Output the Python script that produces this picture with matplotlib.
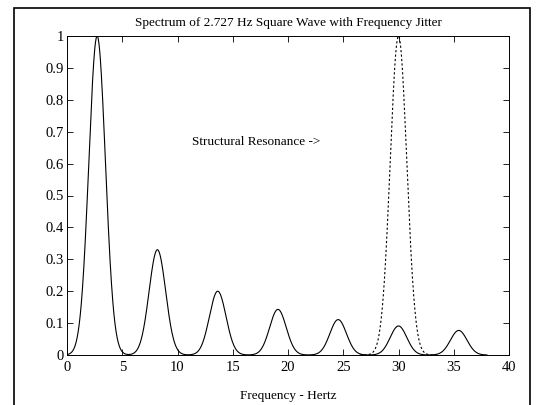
import numpy as np
import matplotlib.pyplot as plt
from matplotlib.patches import Rectangle

# harmonic peaks of the square wave (odd harmonics of 2.727 Hz)
peak_freqs = [2.727, 8.18, 13.64, 19.09, 24.54, 30.0, 35.45]
peak_heights = [1.0, 0.33, 0.20, 0.143, 0.111, 0.091, 0.077]
peak_width = 0.75

# structural resonance (dashed)
res_freq = 30.0
res_height = 1.0
res_width = 0.75

plt.rcParams['font.family'] = ['Liberation Serif', 'DejaVu Serif']


def spectrum(f, centers, heights, w):
    y = np.zeros_like(f)
    for c, h in zip(centers, heights):
        y += h * np.exp(-0.5 * ((f - c) / w) ** 2)
    return y


f = np.linspace(0, 38, 1200)
y = spectrum(f, peak_freqs, peak_heights, peak_width)
fr = np.linspace(26.5, 33.5, 400)
yr = spectrum(fr, [res_freq], [res_height], res_width)

fig = plt.figure(figsize=(5.37, 4.05), dpi=100)
ax = fig.add_axes([67 / 537, 1 - 355 / 405, (509 - 67) / 537, (355 - 36) / 405])

ax.plot(f, y, color="black", lw=0.8)
ax.plot(fr, yr, color="black", lw=0.8, linestyle=(0, (2, 2)))

ax.set_xlim(0, 40)
ax.set_ylim(0, 1)
ax.set_xticks(np.arange(0, 41, 5))
ax.set_yticks(np.arange(0, 1.01, 0.1))
ax.set_yticklabels(["0", "0.1", "0.2", "0.3", "0.4", "0.5", "0.6", "0.7", "0.8", "0.9", "1"])
ax.tick_params(direction="in", length=4, width=0.6, top=True, right=True, labelsize=10.5)
ax.tick_params(axis="x", pad=4)
ax.tick_params(axis="y", pad=2)
for s in ax.spines.values():
    s.set_linewidth(0.7)

ax.set_title("Spectrum of 2.727 Hz Square Wave with Frequency Jitter", fontsize=9.5, pad=7)
ax.set_xlabel("Frequency - Hertz", fontsize=9.5, labelpad=12)
ax.text(11.3, 0.668, "Structural Resonance ->", fontsize=9.5, va="center", ha="left")

# outer figure border of the scanned page
fig.patches.append(Rectangle((14 / 537, -0.05), (530 - 14) / 537, 1 - 8 / 405 + 0.05,
                             transform=fig.transFigure, fill=False, lw=1.2, color="black"))

fig.savefig("out.png", dpi=100)
